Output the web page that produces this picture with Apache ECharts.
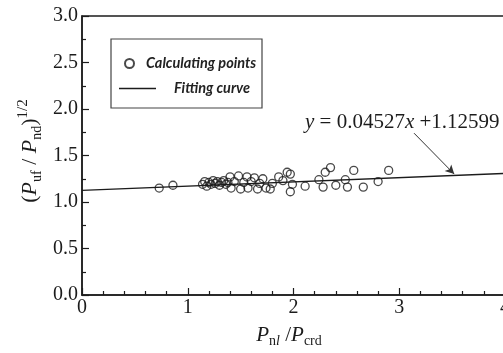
<!DOCTYPE html>
<html>
<head>
<meta charset="utf-8">
<script src="https://cdn.jsdelivr.net/npm/echarts@6/dist/echarts.min.js"></script>
<style>
html, body { margin: 0; padding: 0; background: #fff; }
#chart { width: 503px; height: 353px; }
</style>
</head>
<body>
<div id="chart"></div>
<script>
// calculated points
const ptsX = [0.73, 0.86, 1.14, 1.16, 1.18, 1.20, 1.22, 1.24, 1.26, 1.28, 1.30, 1.32, 1.34, 1.36, 1.38,
	1.40, 1.41, 1.44, 1.48, 1.50, 1.53, 1.56, 1.57, 1.60, 1.63, 1.66, 1.68, 1.71, 1.74, 1.78, 1.80,
	1.86, 1.90, 1.94, 1.97, 1.97, 1.99, 2.11, 2.24, 2.28, 2.30, 2.35, 2.40, 2.49, 2.51, 2.57, 2.66,
	2.80, 2.90]
const ptsY = [1.15, 1.18, 1.19, 1.22, 1.17, 1.21, 1.19, 1.23, 1.20, 1.22, 1.18, 1.21, 1.23, 1.19, 1.21,
	1.27, 1.15, 1.22, 1.28, 1.14, 1.21, 1.27, 1.15, 1.22, 1.26, 1.14, 1.20, 1.25, 1.15, 1.14, 1.20,
	1.27, 1.23, 1.32, 1.30, 1.11, 1.19, 1.17, 1.24, 1.16, 1.32, 1.37, 1.18, 1.24, 1.16, 1.34, 1.16,
	1.22, 1.34]

// fitting line y = 0.04527x + 1.12599
const fitX = [0, 4]
const fitY = [1.12599, 1.30707]

// annotation arrow (data coords)
const arrowFrom = [3.14, 1.74]
const arrowTo = [3.52, 1.30]

const serif = 'Liberation Serif'
const ink = '#1c1c1c'

const chart = echarts.init(document.getElementById('chart'))

const axisCommon = {
	type: 'value',
	axisLine: { show: true, onZero: false, lineStyle: { color: ink, width: 1.5 } },
	axisTick: { show: true, inside: true, length: 7, lineStyle: { color: ink, width: 1.2 } },
	minorTick: { show: true, length: 4, lineStyle: { color: ink, width: 1.2 } },
	splitLine: { show: false },
	axisLabel: { fontFamily: serif, fontSize: 20, color: ink }
}

const legendText = { fontFamily: 'Lato', fontStyle: 'italic', fontWeight: 'bold', fontSize: 14.5, color: '#222' }

const option = {
	animation: false,
	backgroundColor: '#fff',
	grid: {
		left: 82,
		top: 16,
		width: 423,
		height: 279,
		outerBoundsMode: 'none',
		show: true,
		borderColor: ink,
		borderWidth: 1.5
	},
	xAxis: {
		...axisCommon,
		min: 0,
		max: 4,
		interval: 1,
		minorTick: { ...axisCommon.minorTick, splitNumber: 5 },
		axisLabel: { ...axisCommon.axisLabel, margin: 3 }
	},
	yAxis: {
		...axisCommon,
		min: 0,
		max: 3,
		interval: 0.5,
		minorTick: { ...axisCommon.minorTick, splitNumber: 2 },
		axisLabel: { ...axisCommon.axisLabel, margin: 4, formatter: (v) => v.toFixed(1) }
	},
	legend: [
		{
			data: [{ name: 'Calculating points', icon: 'circle' }],
			left: 124,
			top: 56,
			padding: 0,
			itemWidth: 9,
			itemHeight: 9,
			textStyle: { ...legendText, padding: [0, 0, 0, 7] }
		},
		{
			data: [{ name: 'Fitting curve', icon: 'path://M0,0 H37 V1.3 H0 Z' }],
			left: 119,
			top: 81,
			padding: 0,
			itemWidth: 37,
			itemHeight: 14,
			textStyle: { ...legendText, padding: [0, 0, 0, 13] }
		}
	],
	graphic: [
		{
			type: 'rect',
			shape: { x: 111, y: 39, width: 151, height: 69 },
			style: { fill: 'none', stroke: '#444', lineWidth: 1.2 },
			z: 1
		},
		{
			type: 'text',
			x: 30,
			y: 151,
			rotation: Math.PI / 2,
			style: {
				text: '{b|(}{i|P}{s|uf}{b| / }{i|P}{s|nd}{b|)}{u|1/2}',
				align: 'center',
				verticalAlign: 'middle',
				fill: ink,
				rich: {
					b: { fontFamily: serif, fontSize: 22, lineHeight: 28, fill: ink },
					i: { fontFamily: serif, fontSize: 22, fontStyle: 'italic', lineHeight: 28, fill: ink },
					s: { fontFamily: serif, fontSize: 14, lineHeight: 14, verticalAlign: 'bottom', fill: ink },
					u: { fontFamily: serif, fontSize: 15, lineHeight: 14, verticalAlign: 'top', fill: ink }
				}
			}
		},
		{
			type: 'text',
			x: 289,
			y: 335,
			style: {
				text: '{i|P}{s|n}{si|l}{b| /}{i|P}{s|crd}',
				align: 'center',
				verticalAlign: 'middle',
				fill: ink,
				rich: {
					b: { fontFamily: serif, fontSize: 21, lineHeight: 26, fill: ink },
					i: { fontFamily: serif, fontSize: 21, fontStyle: 'italic', lineHeight: 26, fill: ink },
					s: { fontFamily: serif, fontSize: 14, lineHeight: 14, verticalAlign: 'bottom', fill: ink },
					si: { fontFamily: serif, fontSize: 14, fontStyle: 'italic', lineHeight: 14, verticalAlign: 'bottom', fill: ink }
				}
			}
		},
		{
			type: 'text',
			x: 305,
			y: 122,
			style: {
				text: '{i|y}{b| = 0.04527}{i|x}{b| +1.12599}',
				align: 'left',
				verticalAlign: 'middle',
				fill: ink,
				rich: {
					b: { fontFamily: serif, fontSize: 21, fill: ink },
					i: { fontFamily: serif, fontSize: 21, fontStyle: 'italic', fill: ink }
				}
			}
		}
	],
	series: [
		{
			name: 'Fitting curve',
			type: 'line',
			symbol: 'none',
			lineStyle: { color: ink, width: 1.3 },
			itemStyle: { color: ink },
			data: fitX.map((x, i) => [x, fitY[i]]),
			markLine: {
				silent: true,
				symbol: ['none', 'arrow'],
				symbolSize: [7, 9],
				label: { show: false },
				lineStyle: { color: '#333', width: 1, type: 'solid' },
				data: [[{ coord: arrowFrom }, { coord: arrowTo }]]
			},
			z: 2
		},
		{
			name: 'Calculating points',
			type: 'scatter',
			symbol: 'circle',
			symbolSize: 8,
			itemStyle: { color: 'rgba(0,0,0,0)', borderColor: ink, borderWidth: 1.3 },
			data: ptsX.map((x, i) => [x, ptsY[i]]),
			z: 3
		}
	]
}

chart.setOption(option)
</script>
</body>
</html>
